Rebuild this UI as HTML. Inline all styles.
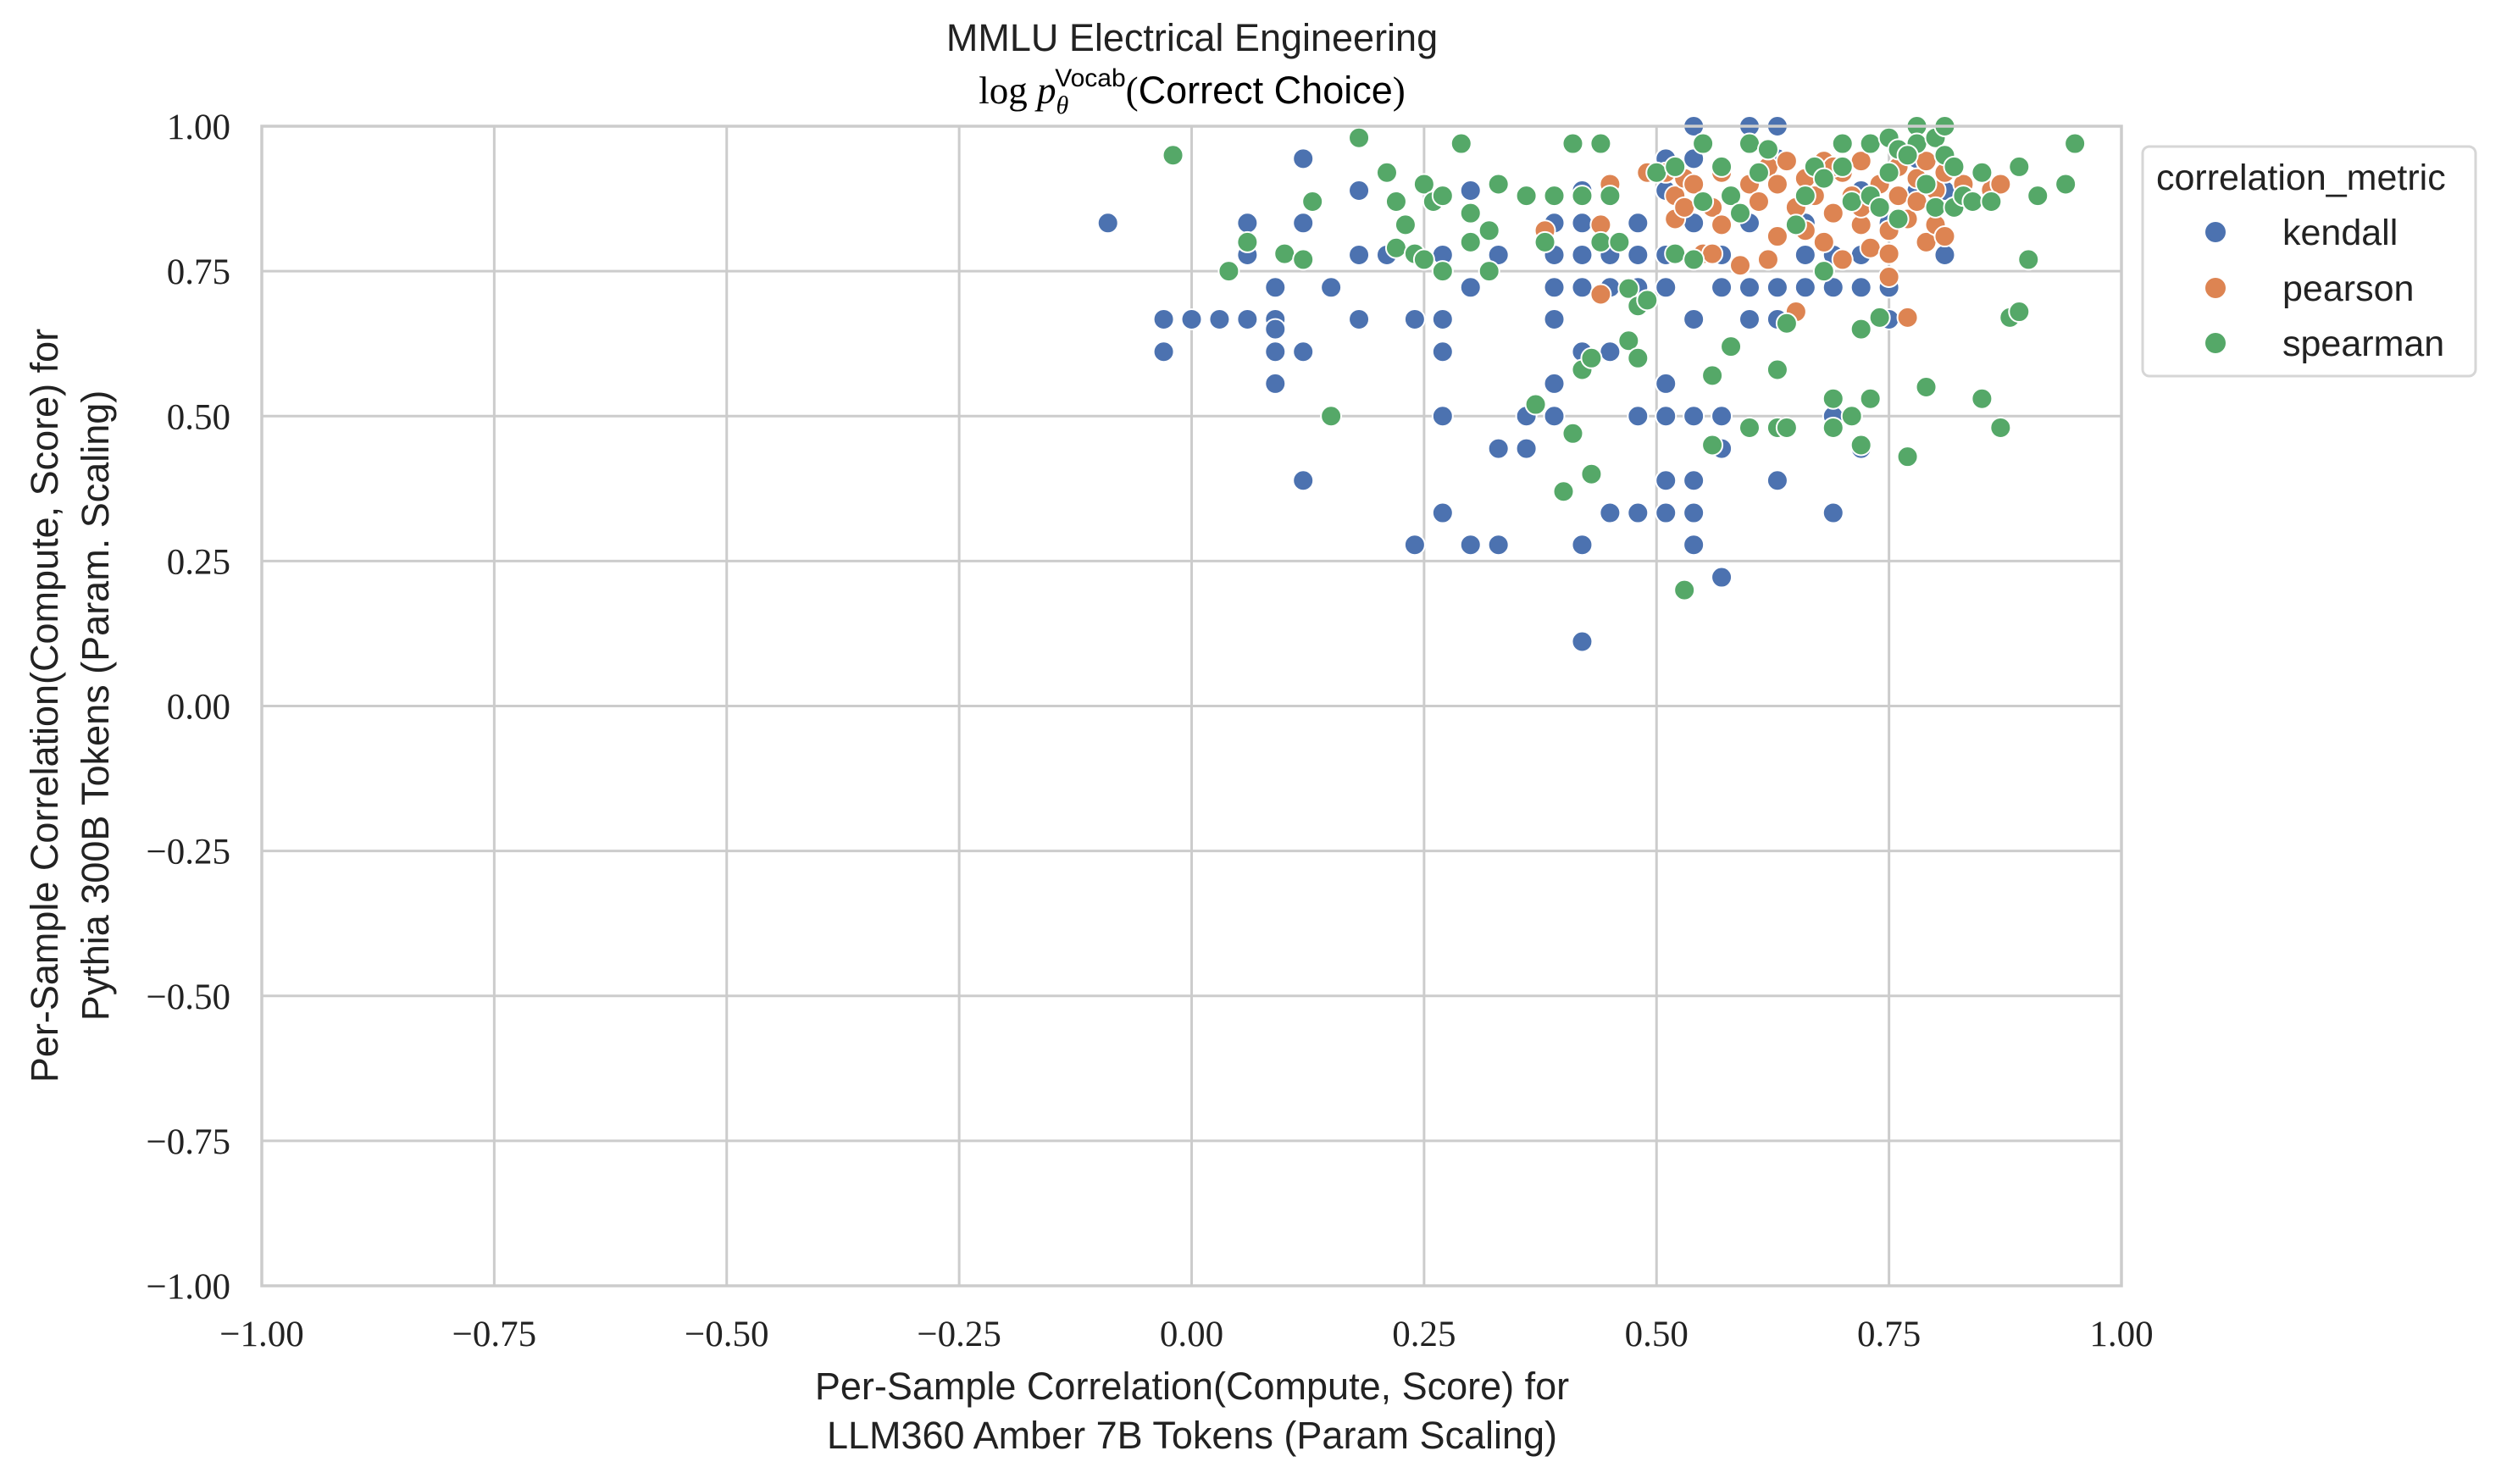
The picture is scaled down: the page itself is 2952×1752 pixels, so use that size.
<!DOCTYPE html>
<html><head><meta charset="utf-8">
<style>
html,body{margin:0;padding:0;background:#fff;}
svg{display:block;}
.tick{font-family:"Liberation Serif",serif;font-size:43px;fill:#222;}
.lab{font-family:"Liberation Sans",sans-serif;font-size:45px;fill:#222;}
.leg{font-family:"Liberation Sans",sans-serif;font-size:43px;fill:#222;}
</style></head>
<body>
<svg id="chart" width="2952" height="1752" viewBox="0 0 2952 1752" xmlns="http://www.w3.org/2000/svg">
<rect x="0" y="0" width="2952" height="1752" fill="#fff"/>
<g id="grid"></g>
<g id="marks"></g>
<rect x="309" y="149" width="2195" height="1369" fill="none" stroke="#cccccc" stroke-width="3.5"/>
<g id="ticks"></g>
<text class="lab" x="1407" y="60" text-anchor="middle">MMLU Electrical Engineering</text>
<text x="1407" y="122" text-anchor="middle"><tspan font-family="Liberation Serif,serif" font-size="45">log </tspan><tspan font-family="Liberation Serif,serif" font-style="italic" font-size="45">p</tspan><tspan font-family="Liberation Serif,serif" font-style="italic" font-size="30" dy="12">θ</tspan><tspan font-family="Liberation Sans,sans-serif" font-size="30" dy="-32" dx="-16">Vocab</tspan><tspan font-family="Liberation Serif,serif" font-size="45" dy="20">(</tspan><tspan font-family="Liberation Sans,sans-serif" font-size="45">Correct Choice</tspan><tspan font-family="Liberation Serif,serif" font-size="45">)</tspan></text>
<text class="lab" x="1407" y="1652" text-anchor="middle">Per-Sample Correlation(Compute, Score) for</text>
<text class="lab" x="1407" y="1710" text-anchor="middle">LLM360 Amber 7B Tokens (Param Scaling)</text>
<g transform="translate(68,833) rotate(-90)">
<text class="lab" x="0" y="0" text-anchor="middle">Per-Sample Correlation(Compute, Score) for</text>
<text class="lab" x="0" y="60" text-anchor="middle">Pythia 300B Tokens (Param. Scaling)</text>
</g>
<g>
<rect x="2529" y="173" width="393" height="271" rx="8" fill="#fff" stroke="#d6d6d6" stroke-width="3"/>
<text class="leg" x="2545" y="224">correlation_metric</text>
<g><circle cx="2615" cy="274" r="12" fill="#4c72b0"/><text class="leg" x="2694" y="289">kendall</text></g>
<g><circle cx="2615" cy="340" r="12" fill="#dd8452"/><text class="leg" x="2694" y="355">pearson</text></g>
<g><circle cx="2615" cy="405" r="12" fill="#55a868"/><text class="leg" x="2694" y="420">spearman</text></g>
</g>
</svg>
<script>
const xTicks=[-1,-0.75,-0.5,-0.25,0,0.25,0.5,0.75,1];
const yTicks=[-1,-0.75,-0.5,-0.25,0,0.25,0.5,0.75,1];
const kendallX=[-0.09,-0.03,-0.03,0,0.03,0.06,0.06,0.06,0.09,0.09,0.09,0.09,0.09,0.12,0.12,0.12,0.12,0.15,0.18,0.18,0.18,0.21,0.24,0.24,0.27,0.27,0.27,0.27,0.27,0.30,0.30,0.30,0.33,0.33,0.33,0.36,0.36,0.39,0.39,0.39,0.39,0.39,0.39,0.42,0.42,0.42,0.42,0.42,0.42,0.42,0.45,0.45,0.45,0.45,0.48,0.48,0.48,0.48,0.48,0.51,0.51,0.51,0.51,0.51,0.51,0.51,0.51,0.54,0.54,0.54,0.54,0.54,0.54,0.54,0.54,0.57,0.57,0.57,0.57,0.57,0.6,0.6,0.6,0.6,0.63,0.63,0.63,0.63,0.63,0.66,0.66,0.66,0.69,0.69,0.69,0.69,0.72,0.72,0.72,0.72,0.75,0.75,0.75,0.78,0.78,0.81,0.81];
const kendallY=[0.833,0.667,0.611,0.667,0.667,0.667,0.778,0.833,0.722,0.667,0.65,0.611,0.556,0.944,0.833,0.611,0.389,0.722,0.889,0.778,0.667,0.778,0.667,0.278,0.778,0.667,0.611,0.5,0.333,0.889,0.722,0.278,0.778,0.444,0.278,0.5,0.444,0.833,0.778,0.722,0.667,0.556,0.5,0.889,0.833,0.778,0.722,0.611,0.278,0.111,0.778,0.722,0.611,0.333,0.833,0.778,0.722,0.5,0.333,0.944,0.889,0.778,0.722,0.556,0.5,0.389,0.333,1.0,0.944,0.833,0.667,0.5,0.389,0.333,0.278,0.778,0.722,0.5,0.444,0.222,1.0,0.833,0.722,0.667,1.0,0.944,0.722,0.667,0.389,0.833,0.722,0.778,0.778,0.722,0.5,0.333,0.889,0.778,0.722,0.444,0.722,0.667,0.833,0.889,0.944,0.778,0.889];
const pearsonX=[0.38,0.44,0.44,0.45,0.49,0.51,0.52,0.52,0.53,0.53,0.54,0.55,0.56,0.56,0.57,0.57,0.58,0.59,0.6,0.61,0.62,0.62,0.63,0.63,0.64,0.65,0.65,0.66,0.66,0.67,0.68,0.68,0.69,0.7,0.7,0.71,0.72,0.72,0.73,0.74,0.74,0.75,0.75,0.76,0.76,0.77,0.77,0.78,0.78,0.79,0.79,0.8,0.8,0.81,0.82,0.83,0.84,0.86,0.87,0.75,0.72,0.69,0.81];
const pearsonY=[0.82,0.71,0.83,0.90,0.92,0.92,0.84,0.88,0.91,0.86,0.90,0.78,0.78,0.86,0.83,0.92,0.88,0.76,0.90,0.87,0.77,0.93,0.81,0.90,0.94,0.86,0.68,0.82,0.91,0.88,0.94,0.80,0.85,0.92,0.77,0.88,0.83,0.94,0.79,0.90,0.86,0.82,0.78,0.93,0.88,0.67,0.84,0.91,0.87,0.80,0.94,0.89,0.83,0.92,0.86,0.90,0.87,0.89,0.90,0.74,0.86,0.93,0.81];
const spearmanX=[-0.02,0.04,0.06,0.1,0.12,0.13,0.15,0.18,0.21,0.22,0.22,0.23,0.24,0.25,0.25,0.26,0.27,0.27,0.29,0.3,0.3,0.32,0.32,0.33,0.36,0.37,0.38,0.39,0.4,0.41,0.41,0.42,0.42,0.43,0.43,0.44,0.44,0.45,0.46,0.47,0.47,0.48,0.48,0.49,0.5,0.52,0.52,0.53,0.54,0.55,0.55,0.56,0.56,0.57,0.58,0.58,0.59,0.6,0.6,0.61,0.62,0.63,0.63,0.64,0.64,0.65,0.66,0.67,0.68,0.69,0.69,0.7,0.7,0.71,0.71,0.72,0.72,0.73,0.73,0.73,0.74,0.75,0.75,0.76,0.76,0.77,0.78,0.78,0.79,0.79,0.8,0.8,0.81,0.81,0.82,0.82,0.83,0.84,0.85,0.85,0.86,0.87,0.88,0.89,0.89,0.9,0.91,0.94,0.95,0.74,0.77,0.68];
const spearmanY=[0.95,0.75,0.80,0.78,0.77,0.87,0.50,0.98,0.92,0.87,0.79,0.83,0.78,0.90,0.77,0.87,0.88,0.75,0.97,0.85,0.80,0.82,0.75,0.90,0.88,0.52,0.80,0.88,0.37,0.97,0.47,0.88,0.58,0.60,0.40,0.97,0.80,0.88,0.80,0.72,0.63,0.69,0.60,0.70,0.92,0.93,0.78,0.20,0.77,0.97,0.87,0.57,0.45,0.93,0.88,0.62,0.85,0.97,0.48,0.92,0.96,0.58,0.48,0.66,0.48,0.83,0.88,0.93,0.75,0.53,0.48,0.97,0.93,0.87,0.50,0.45,0.65,0.97,0.88,0.53,0.67,0.98,0.92,0.96,0.84,0.43,1.0,0.97,0.55,0.90,0.98,0.86,1.0,0.95,0.93,0.86,0.88,0.87,0.92,0.53,0.87,0.48,0.67,0.93,0.68,0.77,0.88,0.90,0.97,0.86,0.95,0.91];

const L=309,R=2504,T=149,B=1518;
function xs(v){return L+(v+1)/2*(R-L);}
function ys(v){return B-(v+1)/2*(B-T);}
const NS='http://www.w3.org/2000/svg';
const grid=document.getElementById('grid'),ticks=document.getElementById('ticks'),marks=document.getElementById('marks');
xTicks.forEach(t=>{
  const l=document.createElementNS(NS,'line');
  
  
  l.setAttribute('x1',xs(t));l.setAttribute('x2',xs(t));l.setAttribute('y1',T);l.setAttribute('y2',B);
  l.setAttribute('stroke','#cccccc');l.setAttribute('stroke-width','3');
  grid.appendChild(l);
  const tx=document.createElementNS(NS,'text');
  
  
  tx.setAttribute('class','tick');tx.setAttribute('x',xs(t));tx.setAttribute('y',1589);tx.setAttribute('text-anchor','middle');
  tx.textContent=(t<0?'\u2212':'')+Math.abs(t).toFixed(2);
  ticks.appendChild(tx);
});
yTicks.forEach(t=>{
  const l=document.createElementNS(NS,'line');
  
  
  l.setAttribute('x1',L);l.setAttribute('x2',R);l.setAttribute('y1',ys(t));l.setAttribute('y2',ys(t));
  l.setAttribute('stroke','#cccccc');l.setAttribute('stroke-width','3');
  grid.appendChild(l);
  const tx=document.createElementNS(NS,'text');
  
  
  tx.setAttribute('class','tick');tx.setAttribute('x',272);tx.setAttribute('y',ys(t)+15);tx.setAttribute('text-anchor','end');
  tx.textContent=(t<0?'\u2212':'')+Math.abs(t).toFixed(2);
  ticks.appendChild(tx);
});
function series(X,Y,color,name){
  for(let i=0;i<X.length;i++){
    const c=document.createElementNS(NS,'circle');
    
    
    c.setAttribute('cx',xs(X[i]));c.setAttribute('cy',ys(Y[i]));c.setAttribute('r',12);
    c.setAttribute('fill',color);c.setAttribute('stroke','#fff');c.setAttribute('stroke-width','2');
    marks.appendChild(c);
  }
}
series(kendallX,kendallY,'#4c72b0','kendall');
series(pearsonX,pearsonY,'#dd8452','pearson');
series(spearmanX,spearmanY,'#55a868','spearman');
</script>
</body></html>
